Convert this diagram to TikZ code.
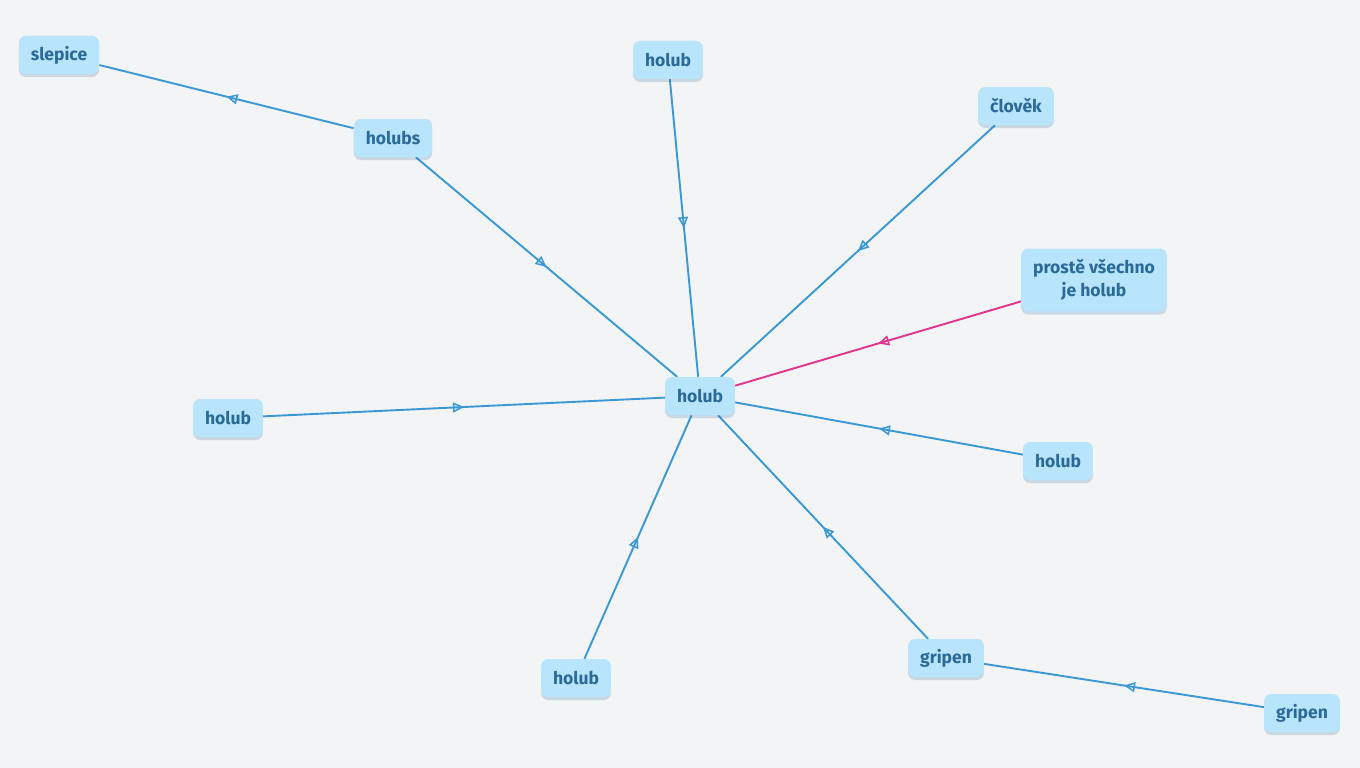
\documentclass[tikz,border=0pt]{standalone}
\usepackage{fontspec}
\setmainfont{Fira Sans}
\usetikzlibrary{arrows.meta,decorations.markings,shadows}
\definecolor{bgc}{HTML}{F2F4F6}
\definecolor{nodefill}{HTML}{B8E4FC}
\definecolor{nodetext}{HTML}{2A6A98}
\definecolor{edgeblue}{HTML}{3A98D4}
\definecolor{edgepink}{HTML}{E0348E}
\pgfdeclarelayer{bglayer}
\pgfdeclarelayer{edges}
\pgfsetlayers{bglayer,edges,main}
\tikzset{
  box/.style={fill=nodefill, rounded corners=7pt, inner xsep=12pt, inner ysep=0pt,
    minimum height=38pt, text=nodetext, font=\fontsize{17.5}{23}\selectfont\bfseries,
    align=center, drop shadow={opacity=0.2, fill=nodetext, shadow xshift=0pt, shadow yshift=-3pt}},
  edgebase/.style={line width=1.9pt, postaction={decorate},
    decoration={markings, mark=at position 0.5 with {\arrow{Triangle[open,length=11pt,width=10pt,line width=1.5pt]}}}},
  edge/.style={edgebase, draw=edgeblue},
  pinkedge/.style={edgebase, draw=edgepink}
}
\begin{document}
\begin{tikzpicture}[x=1pt,y=-1pt]
\useasboundingbox (0,0) rectangle (1360,768);
\node[box] (slepice) at (59,55) {slepice};
\node[box] (holubs) at (393,138) {holubs};
\node[box] (htop) at (668,60) {holub};
\node[box] (clovek) at (1016,106) {člověk};
\node[box, minimum height=63pt] (proste) at (1094,280) {prostě všechno\\je holub};
\node[box] (hc) at (700,396) {holub};
\node[box] (hleft) at (228,418) {holub};
\node[box] (hright) at (1058,461) {holub};
\node[box] (hbottom) at (576,678) {holub};
\node[box] (gmid) at (946,658) {gripen};
\node[box] (gright) at (1302,713) {gripen};
\begin{pgfonlayer}{bglayer}
\fill[bgc] (0,0) rectangle (1360,768);
\end{pgfonlayer}
\begin{pgfonlayer}{edges}
\draw[edge] (holubs) -- (slepice);
\draw[edge] (holubs) -- (hc);
\draw[edge] (htop) -- (hc);
\draw[edge] (clovek) -- (hc);
\draw[pinkedge] (proste) -- (hc);
\draw[edge] (hleft) -- (hc);
\draw[edge] (hright) -- (hc);
\draw[edge] (hbottom) -- (hc);
\draw[edge] (gmid) -- (hc);
\draw[edge] (gright) -- (gmid);
\end{pgfonlayer}
\end{tikzpicture}
\end{document}
